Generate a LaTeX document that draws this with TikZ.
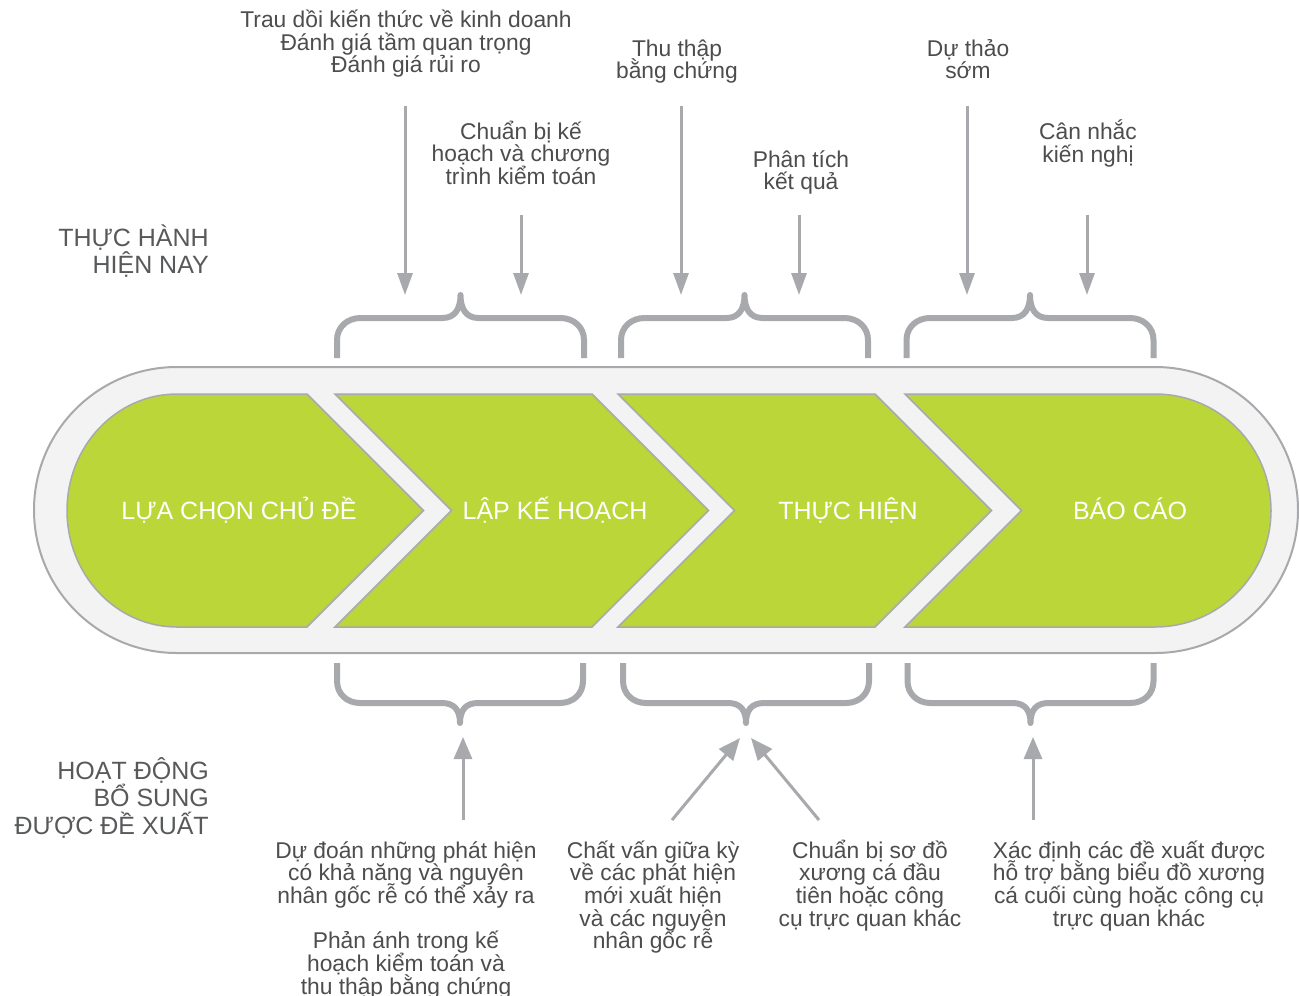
\documentclass[tikz,border=0pt]{standalone}
\usepackage{fontspec}
\setmainfont{Liberation Sans}
\usetikzlibrary{arrows.meta}
\definecolor{lime}{RGB}{187,214,57}
\definecolor{capsule}{RGB}{243,243,243}
\definecolor{edge}{RGB}{167,169,172}
\definecolor{txt}{RGB}{77,77,79}
\definecolor{lbl}{RGB}{88,89,91}
\setlength{\lineskiplimit}{-100pt}
\begin{document}
\begin{tikzpicture}[x=1pt,y=-1pt,
  body/.style={inner sep=0pt, anchor=base, align=center, text=txt, font=\fontsize{22.8}{22.7}\selectfont},
  side/.style={inner sep=0pt, anchor=base east, align=right, text=lbl, font=\fontsize{25}{27.8}\selectfont},
  stage/.style={inner sep=0pt, anchor=base, text=white, font=\fontsize{25}{30}\selectfont},
  chev/.style={fill=lime, draw=edge, line width=1.5pt, line join=miter},
  bracket/.style={draw=edge, line width=6pt, line join=round},
  downarrow/.style={draw=edge, line width=3pt, -{Triangle[length=22pt,width=15pt]}},
  uparrow/.style={draw=edge, line width=3pt, -{Triangle[length=22pt,width=18pt]}}]
\useasboundingbox (0,0) rectangle (1299,996);
\fill[white] (0,0) rectangle (1299,996);

% capsule
\draw[fill=capsule, draw=edge, line width=2pt, rounded corners=142.9pt] (34,367) rectangle (1298,653);

% stage shapes
\draw[chev] (307,394) -- (423.5,510.5) -- (307,627) -- (177,627)
  .. controls (116.2,627) and (67,574.8) .. (67,510.5)
  .. controls (67,446.2) and (116.2,394) .. (177,394) -- cycle;
\draw[chev] (335,394) -- (592,394) -- (708.5,510.5) -- (592,627) -- (335,627) -- (451.5,510.5) -- cycle;
\draw[chev] (618,394) -- (875,394) -- (991.5,510.5) -- (875,627) -- (618,627) -- (734.5,510.5) -- cycle;
\draw[chev] (905,394) -- (1155,394)
  .. controls (1219.1,394) and (1271,446.2) .. (1271,510.5)
  .. controls (1271,574.8) and (1219.1,627) .. (1155,627)
  -- (905,627) -- (1021.5,510.5) -- cycle;

\node[stage] (s1) at (239,519) {LỰA CHỌN CHỦ ĐỀ};
\node[stage] (s2) at (555,519) {LẬP KẾ HOẠCH};
\node[stage] (s3) at (848,519) {THỰC HIỆN};
\node[stage] (s4) at (1130,519) {BÁO CÁO};

% braces
\foreach \cx in {460.5,744.5,1030}
  \draw[bracket, shift={(\cx,318)}] (-123.5,40) -- (-123.5,22)
    .. controls (-123.5,9) and (-113,0) .. (-100,0) -- (-18,0)
    .. controls (-5,0) and (0,-10) .. (0,-23)
    .. controls (0,-10) and (5,0) .. (18,0) -- (100,0)
    .. controls (113,0) and (123.5,9) .. (123.5,22) -- (123.5,40);
\foreach \cx in {460,746,1030.5}
  \draw[bracket, shift={(\cx,703)}, yscale=-1] (-123,40) -- (-123,22)
    .. controls (-123,9) and (-113,0) .. (-100,0) -- (-18,0)
    .. controls (-5,0) and (0,-8) .. (0,-20)
    .. controls (0,-8) and (5,0) .. (18,0) -- (100,0)
    .. controls (113,0) and (123,9) .. (123,22) -- (123,40);

% side labels (anchor = baseline of last line)
\node[side] (cur) at (209,273.8) {THỰC HÀNH\\HIỆN NAY};
\node[side] (sug) at (209,834.6) {HOẠT ĐỘNG\\BỔ SUNG\\ĐƯỢC ĐỀ XUẤT};

% top texts (anchor = baseline of last line)
\node[body] (p1) at (406,72.9) {Trau dồi kiến thức về kinh doanh\\Đánh giá tầm quan trọng\\Đánh giá rủi ro};
\node[body] (p2) at (521,184.4) {Chuẩn bị kế\\hoạch và chương\\trình kiểm toán};
\node[body] (e1) at (677,78.7) {Thu thập\\bằng chứng};
\node[body] (e2) at (801,189.7) {Phân tích\\kết quả};
\node[body] (r1) at (968,78.7) {Dự thảo\\sớm};
\node[body] (r2) at (1088,162) {Cân nhắc\\kiến nghị};

% top arrows
\coordinate (p1s) at (405,106); \coordinate (p1e) at (405,295);
\coordinate (p2s) at (521,215); \coordinate (p2e) at (521,295);
\coordinate (e1s) at (681,106); \coordinate (e1e) at (681,295);
\coordinate (e2s) at (799,215); \coordinate (e2e) at (799,295);
\coordinate (r1s) at (967,106); \coordinate (r1e) at (967,295);
\coordinate (r2s) at (1087,215); \coordinate (r2e) at (1087,295);
\foreach \a in {p1,p2,e1,e2,r1,r2}
  \draw[downarrow] (\a s) -- (\a e);

% bottom texts (anchor = baseline of last line)
\node[body] (q1) at (406,994) {Dự đoán những phát hiện\\có khả năng và nguyên\\nhân gốc rễ có thể xảy ra\\[22.5pt]Phản ánh trong kế\\hoạch kiểm toán và\\thu thập bằng chứng};
\node[body] (q2) at (653,948.8) {Chất vấn giữa kỳ\\về các phát hiện\\mới xuất hiện\\và các nguyên\\nhân gốc rễ};
\node[body] (q3) at (870,926.1) {Chuẩn bị sơ đồ\\xương cá đầu\\tiên hoặc công\\cụ trực quan khác};
\node[body] (q4) at (1129,926.1) {Xác định các đề xuất được\\hỗ trợ bằng biểu đồ xương\\cá cuối cùng hoặc công cụ\\trực quan khác};

% bottom arrows
\coordinate (q1s) at (463,820); \coordinate (q1e) at (463,737);
\coordinate (q2s) at (672,820); \coordinate (q2e) at (740,738);
\coordinate (q3s) at (819,820); \coordinate (q3e) at (751,738);
\coordinate (q4s) at (1033,820); \coordinate (q4e) at (1033,737);
\foreach \a in {q1,q2,q3,q4}
  \draw[uparrow] (\a s) -- (\a e);
\end{tikzpicture}
\end{document}
